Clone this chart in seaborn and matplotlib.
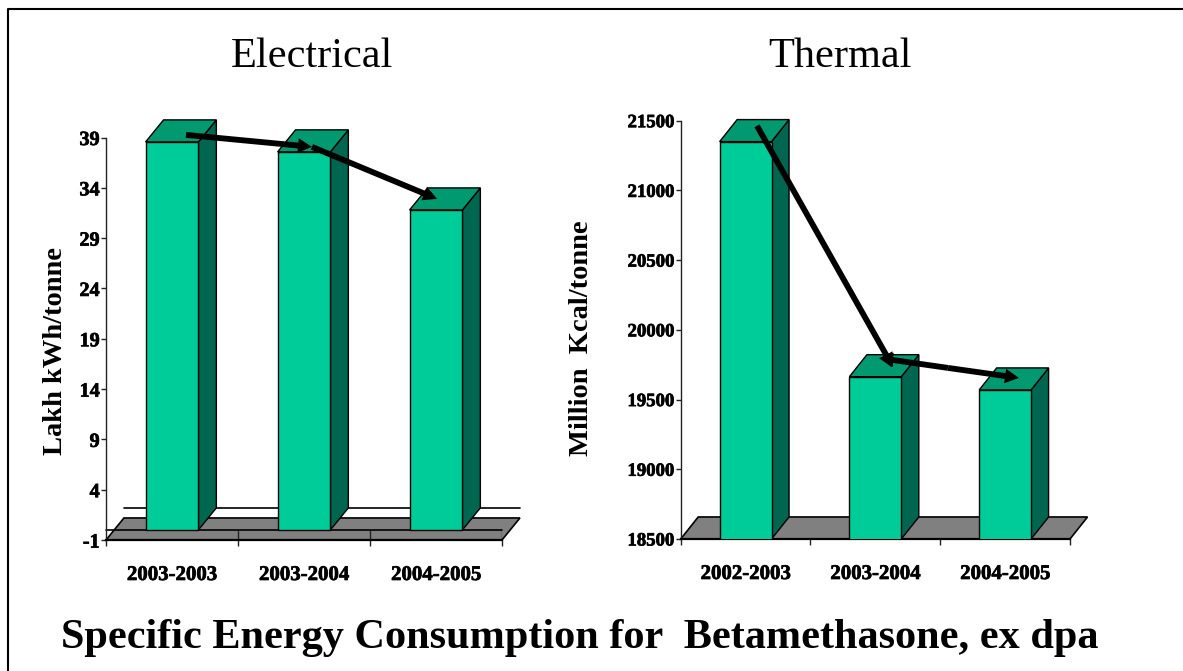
import pandas as pd
import matplotlib
matplotlib.use("Agg")
import matplotlib.pyplot as plt
import matplotlib.patheffects as pe
from matplotlib.patches import Polygon
from matplotlib.lines import Line2D
import seaborn as sns

# values
elec_years = ["2003-2003", "2003-2004", "2004-2005"]
elec_vals = [38.56, 37.57, 31.8]
elec_ticks = [-1, 4, 9, 14, 19, 24, 29, 34, 39]
therm_years = ["2002-2003", "2003-2004", "2004-2005"]
therm_vals = [21350, 19664, 19569]
therm_ticks = [18500, 19000, 19500, 20000, 20500, 21000, 21500]

# arrows, in data units: from (x0, y0) to (x1, y1)
elec_arrows = [(0.106, 39.26, 1.06, 38.07), (1.06, 38.07, 2.008, 32.9)]
therm_arrows = [(0.088, 21463, 1.136, 19734),
                (1.56, 19727, 1.028, 19798), (1.56, 19727, 2.106, 19655)]

FRONT = "#00CC99"
TOP = "#009970"
SIDE = "#006650"
FLOOR = "#808080"
W, H = 1183, 671

sns.set_theme(style="white")
plt.rcParams["font.family"] = ["Liberation Serif", "DejaVu Serif"]
plt.rcParams["axes.unicode_minus"] = False

fig = plt.figure(figsize=(W / 100, H / 100), dpi=100, facecolor="white")
heavy = [pe.withStroke(linewidth=0.5, foreground="black")]


def make_axes(x0, x1, ytop, ybot):
    return fig.add_axes([x0 / W, 1 - ybot / H, (x1 - x0) / W, (ybot - ytop) / H], facecolor="none")


def chart(ax, years, vals, ticks, arrows, dx, dy, zero_plane, ysize):
    df = pd.DataFrame({"year": years, "val": vals})
    sns.barplot(data=df, x="year", y="val", color=FRONT, saturation=1, width=0.4,
                edgecolor="black", linewidth=1, ax=ax, zorder=4)
    bars = list(ax.patches)
    ymin, ymax = ticks[0], ticks[-1]
    ax.set_xlim(-0.5, 2.5)
    ax.set_ylim(ymin, ymax)
    ax.set_yticks(ticks)
    ax.set_xlabel("")
    ax.set_ylabel("")
    ax.tick_params(axis="y", left=True, length=3.6, width=1, color="#222222", pad=1,
                   labelsize=ysize, labelcolor="black")
    ax.tick_params(axis="x", bottom=False, pad=12, labelsize=15, labelcolor="black")
    for lab in ax.get_xticklabels() + ax.get_yticklabels():
        lab.set_fontweight("bold")
        lab.set_path_effects(heavy)
    ax.set_xticks([-0.5, 0.5, 1.5, 2.5], minor=True)
    ax.tick_params(axis="x", which="minor", bottom=True, length=4.5, width=1, color="#222222")
    sns.despine(ax=ax)
    ax.spines["left"].set_linewidth(1)
    ax.spines["left"].set_color("#222222")
    ax.spines["bottom"].set_linewidth(1.6)
    ax.spines["bottom"].set_color("black")

    # grey floor
    ax.add_patch(Polygon([(-0.5, ymin), (2.5, ymin), (2.5 + dx, ymin + dy), (-0.5 + dx, ymin + dy)],
                         facecolor=FLOOR, edgecolor="black", lw=1.2, clip_on=False, zorder=1))
    if zero_plane:
        ax.add_line(Line2D([-0.5 + dx, 2.5 + dx], [dy, dy], color="black", lw=1.2, clip_on=False, zorder=2))
        ax.add_line(Line2D([-0.5, 2.5], [0, 0], color="black", lw=1.2, clip_on=False, zorder=2))
        ax.vlines([0.5, 1.5, 2.5], ymin, 0, color="#222222", lw=1, zorder=2)

    # box sides and tops on each bar
    for bar in bars:
        x0 = bar.get_x()
        x1 = x0 + bar.get_width()
        top = bar.get_y() + bar.get_height()
        base = max(bar.get_y(), ymin)
        ax.add_patch(Polygon([(x1, base), (x1 + dx, base + dy), (x1 + dx, top + dy), (x1, top)],
                             facecolor=SIDE, edgecolor="black", lw=1, clip_on=False, zorder=3))
        ax.add_patch(Polygon([(x0, top), (x1, top), (x1 + dx, top + dy), (x0 + dx, top + dy)],
                             facecolor=TOP, edgecolor="black", lw=1, clip_on=False, zorder=3))

    for x0, y0, x1, y1 in arrows:
        ax.annotate("", xy=(x1, y1), xytext=(x0, y0), zorder=6, annotation_clip=False,
                    arrowprops=dict(arrowstyle="simple,head_length=1.0,head_width=1.05,tail_width=0.42",
                                    facecolor="black", edgecolor="black", lw=0, mutation_scale=10,
                                    shrinkA=0, shrinkB=0))


ax1 = make_axes(106, 502, 137.5, 540)
chart(ax1, elec_years, elec_vals, elec_ticks, elec_arrows, 0.136, 2.19, True, 14.5)
ax2 = make_axes(680.7, 1070, 120.7, 539)
chart(ax2, therm_years, therm_vals, therm_ticks, therm_arrows, 0.135, 158, False, 13.5)

# text
fig.text(311.5 / W, 1 - 67 / H, "Electrical", ha="center", va="baseline", fontsize=30.5, color="black")
fig.text(840 / W, 1 - 67 / H, "Thermal", ha="center", va="baseline", fontsize=30.5, color="black")
fig.text(580 / W, 1 - 648 / H, "Specific Energy Consumption for  Betamethasone, ex dpa",
         ha="center", va="baseline", fontsize=30.4, fontweight="bold", color="black")
fig.text(56 / W, 1 - 351 / H, "Lakh kWh/tonne", rotation=90, ha="center", va="center",
         fontsize=20.5, fontweight="bold", color="black")
fig.text(582 / W, 1 - 338.5 / H, "Million  Kcal/tonne", rotation=90, ha="center", va="center",
         fontsize=20.5, fontweight="bold", color="black")

# slide frame
fig.add_artist(Line2D([8 / W, 8 / W, 1], [0, 1 - 9 / H, 1 - 9 / H], color="black", lw=1.5))

fig.savefig("out.png", dpi=100)
